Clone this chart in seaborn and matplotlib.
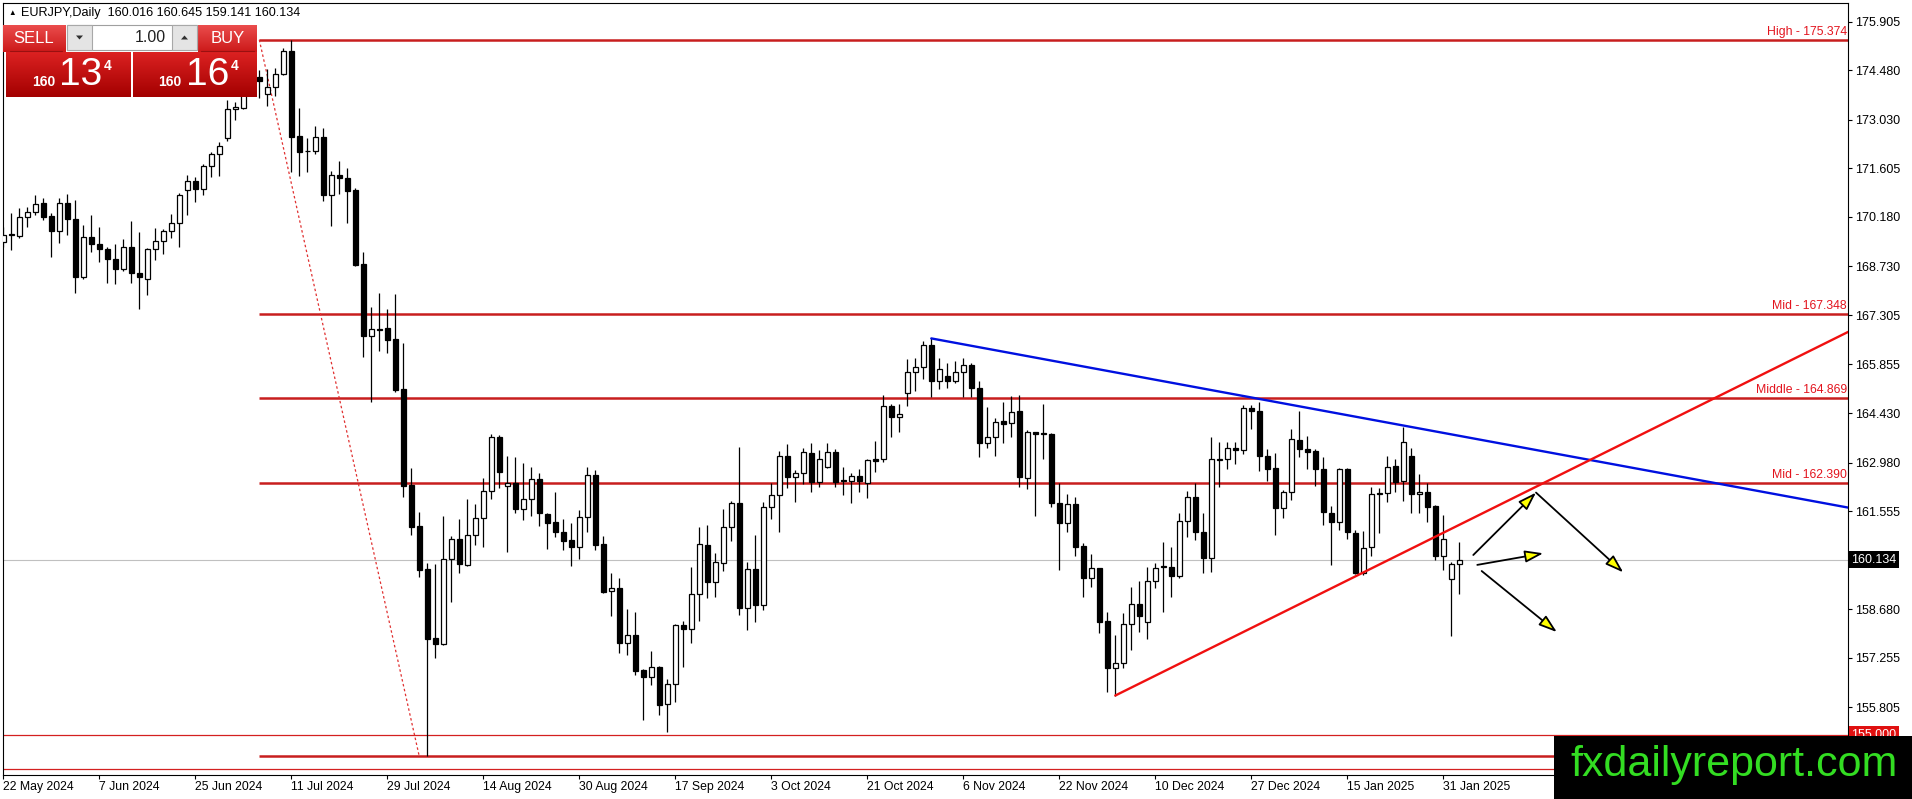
import numpy as np
import pandas as pd
import matplotlib
matplotlib.use("Agg")
import matplotlib.pyplot as plt
import seaborn as sns
from matplotlib.patches import Rectangle, Polygon
from matplotlib.transforms import blended_transform_factory

sns.set_theme(style="white")
plt.rcParams['font.family'] = ['Liberation Sans', 'DejaVu Sans']

# EURJPY daily candles, 22 May 2024 .. 4 Feb 2025
opens = [169.44, 169.65, 169.62, 170.19, 170.32, 170.58, 170.21, 169.78, 170.58, 170.11,
         168.43, 169.60, 169.38, 169.23, 168.96, 168.66, 169.31, 168.53, 168.35, 169.23,
         169.47, 169.76, 170.01, 170.97, 171.24, 170.99, 171.67, 172.03, 172.49, 173.34,
         173.38, 173.90, 174.29, 173.78, 174.00, 174.36, 175.05, 172.55, 172.11, 172.11,
         172.52, 170.82, 171.40, 171.33, 170.98, 168.80, 166.69, 166.89, 166.93, 166.61,
         165.14, 162.31, 161.13, 159.86, 157.85, 157.67, 160.14, 160.74, 159.97, 160.85,
         161.35, 162.16, 163.74, 162.29, 162.39, 161.61, 161.90, 162.49, 161.47, 161.23,
         160.94, 160.71, 160.51, 161.39, 162.61, 160.59, 159.20, 159.29, 157.70, 157.92,
         156.90, 156.68, 156.98, 155.89, 156.48, 158.22, 158.11, 159.13, 160.56, 159.49,
         160.03, 161.08, 161.78, 158.71, 159.85, 158.80, 161.69, 162.02, 163.17, 162.57,
         162.66, 163.25, 162.42, 162.86, 163.28, 162.45, 162.45, 162.60, 162.37, 163.07,
         163.07, 164.64, 164.33, 165.01, 165.64, 165.79, 166.43, 165.38, 165.52, 165.38,
         165.64, 165.84, 165.16, 163.54, 163.72, 164.20, 164.13, 164.49, 162.52, 163.87,
         163.83, 163.82, 161.79, 161.20, 161.76, 160.53, 159.61, 159.88, 158.34, 156.97,
         157.11, 158.24, 158.82, 158.30, 159.52, 159.92, 159.93, 159.66, 161.27, 161.96,
         160.93, 160.17, 163.06, 163.07, 163.42, 163.35, 164.59, 164.50, 163.18, 162.81,
         161.64, 162.11, 163.64, 163.37, 163.32, 162.78, 161.49, 161.25, 162.78, 160.91,
         159.73, 160.49, 162.05, 162.10, 162.88, 162.45, 163.17, 162.05, 162.13, 161.71,
         160.25, 159.56, 160.016]
highs = [169.90, 170.29, 170.43, 170.48, 170.82, 170.73, 170.29, 170.73, 170.85, 170.68,
         169.94, 170.24, 169.90, 169.31, 169.39, 169.52, 170.07, 169.75, 169.26, 169.85,
         169.83, 170.27, 170.87, 171.41, 171.36, 171.73, 172.09, 172.39, 173.61, 173.56,
         174.00, 174.50, 174.49, 174.51, 174.54, 175.12, 175.374, 173.37, 172.49, 172.86,
         172.80, 171.54, 171.81, 171.62, 171.02, 169.15, 167.54, 167.95, 167.47, 167.91,
         166.49, 162.83, 161.53, 160.03, 160.00, 161.40, 160.83, 161.33, 161.90, 161.77,
         162.52, 163.82, 163.79, 163.17, 163.13, 162.96, 162.84, 162.68, 161.49, 162.13,
         161.33, 161.20, 161.59, 162.84, 162.76, 160.83, 159.73, 159.59, 158.69, 158.59,
         156.92, 157.46, 157.02, 156.64, 158.25, 158.34, 159.93, 161.10, 161.15, 160.34,
         161.61, 161.85, 163.45, 160.05, 160.86, 161.81, 162.39, 163.33, 163.52, 162.76,
         163.42, 163.54, 163.35, 163.54, 163.38, 162.86, 162.68, 162.78, 163.08, 163.61,
         164.96, 164.70, 164.70, 166.01, 166.04, 166.54, 166.62, 166.04, 165.91, 165.97,
         166.04, 165.89, 165.38, 164.62, 164.28, 164.75, 164.93, 164.96, 163.93, 163.89,
         164.70, 163.84, 162.37, 162.06, 161.96, 160.63, 160.30, 159.90, 158.61, 157.92,
         158.58, 159.34, 159.52, 159.93, 160.03, 160.64, 160.51, 161.49, 162.15, 162.37,
         161.49, 163.74, 163.59, 163.57, 163.57, 164.67, 164.67, 164.77, 163.37, 163.25,
         162.18, 163.96, 164.49, 163.76, 163.37, 163.13, 161.72, 162.81, 162.81, 161.00,
         160.96, 162.25, 162.23, 163.17, 163.08, 164.01, 163.40, 162.64, 162.39, 161.73,
         161.44, 160.05, 160.645]
lows = [169.31, 169.21, 169.55, 169.90, 170.24, 170.09, 169.02, 169.41, 169.65, 167.96,
        168.35, 169.16, 168.87, 168.25, 168.22, 168.61, 168.23, 167.47, 167.89, 168.92,
        169.09, 169.55, 169.29, 170.24, 170.63, 170.82, 171.36, 171.38, 172.42, 173.02,
        173.35, 173.80, 173.66, 173.43, 173.73, 174.34, 171.51, 171.39, 171.50, 172.04,
        170.64, 169.93, 170.86, 170.00, 168.74, 166.08, 164.77, 166.24, 166.18, 165.04,
        161.97, 160.85, 159.62, 154.364, 157.24, 157.62, 158.90, 159.75, 159.96, 160.56,
        160.51, 161.90, 162.24, 160.37, 161.49, 161.30, 161.41, 161.12, 160.44, 160.81,
        160.42, 159.96, 160.14, 160.95, 160.42, 159.17, 158.49, 157.41, 157.34, 156.75,
        155.43, 156.46, 155.57, 155.09, 155.97, 157.00, 157.70, 158.34, 159.00, 159.05,
        159.81, 160.69, 158.51, 158.07, 158.32, 158.66, 161.32, 160.95, 162.22, 161.83,
        162.34, 162.13, 162.25, 162.83, 162.27, 162.03, 161.79, 162.13, 161.95, 162.71,
        163.01, 163.74, 163.89, 164.64, 165.09, 165.42, 164.89, 165.13, 165.16, 165.32,
        164.91, 164.91, 163.15, 163.42, 163.18, 163.56, 163.74, 162.25, 162.20, 161.41,
        163.08, 161.69, 159.83, 160.93, 160.25, 159.03, 159.34, 157.97, 156.25, 156.15,
        156.97, 157.49, 158.02, 157.80, 159.31, 158.61, 159.05, 159.59, 160.81, 160.71,
        159.75, 159.78, 162.27, 162.79, 162.94, 163.23, 163.95, 162.74, 162.45, 160.86,
        161.35, 161.88, 163.15, 162.78, 162.30, 161.15, 159.98, 161.00, 160.73, 159.71,
        159.68, 160.25, 160.91, 161.81, 162.13, 161.86, 161.49, 161.51, 161.25, 160.12,
        159.83, 157.90, 159.141]
closes = [169.65, 169.66, 170.19, 170.32, 170.56, 170.19, 169.78, 170.58, 170.11, 168.43,
          169.60, 169.38, 169.25, 168.96, 168.66, 169.31, 168.53, 168.41, 169.23, 169.47,
          169.76, 170.01, 170.82, 171.24, 170.99, 171.67, 172.03, 172.26, 173.34, 173.39,
          173.90, 174.30, 174.18, 174.00, 174.36, 175.05, 172.53, 172.09, 172.10, 172.52,
          170.82, 171.40, 171.32, 170.95, 168.77, 166.69, 166.89, 166.86, 166.58, 165.11,
          162.29, 161.08, 159.83, 157.82, 157.67, 160.14, 160.73, 160.00, 160.85, 161.35,
          162.16, 163.72, 162.71, 162.39, 161.61, 161.90, 162.49, 161.49, 161.22, 160.93,
          160.69, 160.51, 161.39, 162.61, 160.56, 159.19, 159.29, 157.68, 157.92, 156.88,
          156.68, 156.98, 155.87, 156.48, 158.22, 158.09, 159.13, 160.58, 159.49, 160.05,
          161.08, 161.78, 158.71, 159.85, 158.80, 161.69, 162.02, 163.17, 162.57, 162.66,
          163.28, 162.42, 163.07, 163.28, 162.42, 162.43, 162.60, 162.44, 163.06, 163.04,
          164.64, 164.33, 164.39, 165.64, 165.79, 166.43, 165.38, 165.71, 165.38, 165.64,
          165.84, 165.16, 163.54, 163.72, 164.18, 164.10, 164.47, 162.57, 163.87, 163.81,
          163.81, 161.79, 161.20, 161.76, 160.51, 159.61, 159.90, 158.32, 156.97, 157.11,
          158.24, 158.82, 158.49, 159.52, 159.90, 159.94, 159.66, 161.28, 161.96, 160.95,
          160.19, 163.07, 163.08, 163.42, 163.35, 164.59, 164.50, 163.18, 162.79, 161.64,
          162.11, 163.66, 163.37, 163.30, 162.78, 161.52, 161.25, 162.78, 160.93, 159.73,
          160.47, 162.05, 162.07, 162.86, 162.42, 163.59, 162.05, 162.13, 161.69, 160.25,
          160.73, 160.01, 160.134]
holidays = ['2024-12-25', '2025-01-01']
dates = pd.bdate_range('2024-05-22', periods=len(opens), freq='C', holidays=holidays)

# Fibonacci retracement (anchored bar 32 -> bar 52)
fib_levels = [175.374, 167.348, 164.869, 162.390, 154.364]
fib_names = ['High', 'Mid', 'Middle', 'Mid', 'Low']
fib_bars = [32, 52]
alert_levels = [155.000, 154.000]
last_price = 160.134

# trend lines: (bar, price) pairs
blue_line_x = [116, 230.6]
blue_line_y = [166.62, 161.66]
red_line_x = [139, 230.6]
red_line_y = [156.15, 166.81]

# projection arrows: start bar, start price, end bar, end price
arrow_x0 = [183.75, 191.59, 184.25, 184.8]
arrow_y0 = [160.27, 162.10, 159.98, 159.80]
arrow_x1 = [191.59, 202.5, 192.5, 194.2]
arrow_y1 = [162.10, 159.76, 160.32, 158.01]

price_ticks = [175.905, 174.480, 173.030, 171.605, 170.180, 168.730, 167.305,
               165.855, 164.430, 162.980, 161.555, 158.680, 157.255, 155.805]

df = pd.DataFrame({'date': dates, 'open': opens, 'high': highs, 'low': lows, 'close': closes})
df['bar'] = np.arange(len(df))
df['up'] = df['close'] >= df['open']

W, H = 1912, 799
fig = plt.figure(figsize=(W / 100, H / 100), dpi=100)
fig.patch.set_facecolor('white')
ax = fig.add_axes([2.7 / W, 1 - 775 / H, (1848 - 2.7) / W, (775 - 2.7) / H])
ax.set_facecolor('white')
xmax = 230.59
ax.set_xlim(-0.075, xmax)
ax.set_ylim(153.82, 176.462)

# horizontal lines
ax.axhline(last_price, color='#c0c0c0', lw=0.8, zorder=1)
for lv in alert_levels:
    ax.axhline(lv, color='#d42020', lw=0.9, zorder=2)
ax.hlines(fib_levels, fib_bars[0], xmax, color='#c81e1e', lw=1.8, zorder=2)
for lv, nm in zip(fib_levels, fib_names):
    if nm == 'Low':
        continue
    ax.text(xmax - 0.15, lv + 0.06, f'{nm} - {lv:.3f}', ha='right', va='bottom',
            color='#e3141e', fontsize=8.8, zorder=6)
ax.plot([fib_bars[0], fib_bars[1]], [fib_levels[0], fib_levels[-1]], color='#e03030',
        lw=0.9, ls=(0, (2, 2)), zorder=2)

# candles
ax.vlines(df['bar'], df['low'], df['high'], color='black', lw=0.9, zorder=3)
body_lo = np.minimum(df['open'], df['close'])
body_h = np.maximum((df['close'] - df['open']).abs(), 0.025)
ax.bar(df['bar'], body_h, bottom=body_lo, width=0.62,
       color=np.where(df['up'], 'white', 'black'), edgecolor='black', linewidth=0.9, zorder=4)

# trend lines
ax.plot(blue_line_x, blue_line_y, color='#0010e0', lw=1.7, zorder=5)
ax.plot(red_line_x, red_line_y, color='#f01010', lw=1.7, zorder=5)

for x0, y0, x1, y1 in zip(arrow_x0, arrow_y0, arrow_x1, arrow_y1):
    ax.annotate('', xy=(x1, y1), xytext=(x0, y0), annotation_clip=False, zorder=7,
                arrowprops=dict(arrowstyle='-|>,head_length=0.85,head_width=0.28',
                                mutation_scale=13, lw=1.3, edgecolor='black',
                                facecolor='#ffff00', shrinkA=0, shrinkB=0))

# axes styling
for s in ax.spines.values():
    s.set_color('black')
    s.set_linewidth(0.8)
ax.grid(False)
ax.yaxis.tick_right()
ax.set_yticks(price_ticks)
ax.set_yticklabels([f'{v:.3f}' for v in price_ticks])
tick_bars = list(range(0, len(df), 12))
ax.set_xticks(tick_bars)
ax.set_xticklabels([f"{d.day} {d.strftime('%b %Y')}" for d in df['date'].iloc[tick_bars]])
for lab in ax.get_xticklabels():
    lab.set_ha('left')
ax.tick_params(axis='x', bottom=True, direction='out', length=3, width=0.8, pad=1,
               labelsize=8.8, colors='black')
ax.tick_params(axis='y', right=True, left=False, direction='out', length=3, width=0.8,
               pad=2, labelsize=9, colors='black')
ax.set_xlabel('')
ax.set_ylabel('')

trans = blended_transform_factory(ax.transAxes, ax.transData)
ax.text(1.0017, last_price, f'{last_price:.3f}', transform=trans, color='white', fontsize=9,
        va='center', ha='left', clip_on=False, zorder=8,
        bbox=dict(boxstyle='square,pad=0.2', fc='black', ec='none'))
ax.text(1.0017, alert_levels[0], f'{alert_levels[0]:.3f}', transform=trans, color='white',
        fontsize=9, va='center', ha='left', clip_on=False, zorder=8,
        bbox=dict(boxstyle='square,pad=0.2', fc='#e01010', ec='none'))

# header
fig.text(8 / W, 1 - 13.5 / H, '▲', fontsize=5.5, va='center', ha='left', color='black')
fig.text(20.7 / W, 1 - 13.3 / H, 'EURJPY,Daily  160.016 160.645 159.141 160.134',
         fontsize=9.1, va='center', ha='left', color='black')

# trade panel + watermark overlay in pixel coordinates
ov = fig.add_axes([0, 0, 1, 1], zorder=10)
ov.set_xlim(0, W)
ov.set_ylim(H, 0)
ov.axis('off')
ov.patch.set_alpha(0)


def grad(x0, y0, x1, y1, top, bot):
    t = np.linspace(0, 1, 40)[:, None, None]
    arr = np.array(top)[None, None, :] * (1 - t) + np.array(bot)[None, None, :] * t
    ov.imshow(arr, extent=(x0, x1, y1, y0), aspect='auto', interpolation='bilinear', zorder=11)


grad(2.7, 25, 65, 52, (0.92, 0.30, 0.30), (0.80, 0.10, 0.10))
grad(198, 25, 257, 52, (0.92, 0.30, 0.30), (0.80, 0.10, 0.10))
grad(6, 52, 131, 97, (0.86, 0.13, 0.13), (0.64, 0.0, 0.0))
grad(132.7, 52, 256.7, 97, (0.86, 0.13, 0.13), (0.64, 0.0, 0.0))
ov.set_xlim(0, W)
ov.set_ylim(H, 0)
ov.plot([10, 62], [51.2, 51.2], color='#9a1010', lw=0.8, zorder=12)
ov.plot([201, 254], [51.2, 51.2], color='#9a1010', lw=0.8, zorder=12)
ov.add_patch(Rectangle((66.7, 25), 130, 25, fc='white', ec='#a0a0a0', lw=0.8, zorder=11))
ov.add_patch(Rectangle((66.7, 25), 25, 25, fc='#e4e4e4', ec='#a8a8a8', lw=0.8, zorder=12))
ov.add_patch(Rectangle((171.7, 25), 25, 25, fc='#e4e4e4', ec='#a8a8a8', lw=0.8, zorder=12))
ov.add_patch(Polygon([[76, 35.5], [83, 35.5], [79.5, 39.5]], fc='#303030', ec='none', zorder=13))
ov.add_patch(Polygon([[181, 39.5], [188, 39.5], [184.5, 35.5]], fc='#303030', ec='none', zorder=13))
ov.text(166, 37.5, '1.00', fontsize=11.5, ha='right', va='center', color='#202020', zorder=13)
ov.text(33.8, 38.5, 'SELL', fontsize=12, ha='center', va='center', color='white', zorder=13)
ov.text(227.5, 38.5, 'BUY', fontsize=12, ha='center', va='center', color='white', zorder=13)
for px, big in [(0, '13'), (126.7, '16')]:
    ov.text(43.3 + px, 82, '160', fontsize=10, fontweight='bold', ha='center', va='center',
            color='white', zorder=13)
    ov.text(81 + px, 75, big, fontsize=28, ha='center', va='center', color='white', zorder=13)
    ov.text(108 + px, 66.5, '4', fontsize=10, fontweight='bold', ha='center', va='center',
            color='white', zorder=13)

ov.add_patch(Rectangle((1554, 736), W - 1554, H - 736, fc='black', ec='none', zorder=11))
ov.text(1570.5, 776, 'fxdailyreport.com', fontsize=31, ha='left', va='baseline',
        color='#33dd22', zorder=12)

fig.savefig('out.png', dpi=100, facecolor='white')
